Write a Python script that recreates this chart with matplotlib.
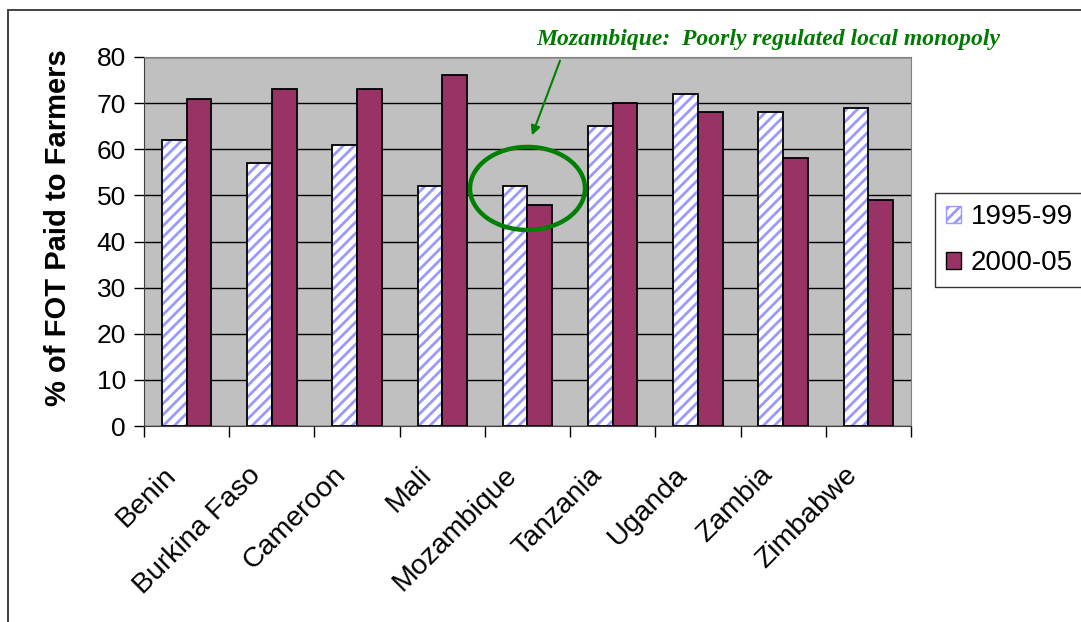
import matplotlib.pyplot as plt
import matplotlib.transforms as mtransforms
import numpy as np
from matplotlib.patches import Ellipse, Rectangle, Patch

countries = ["Benin", "Burkina Faso", "Cameroon", "Mali", "Mozambique",
             "Tanzania", "Uganda", "Zambia", "Zimbabwe"]
share_9599 = [62, 57, 61, 52, 52, 65, 72, 68, 69]
share_0005 = [71, 73, 73, 76, 48, 70, 68, 58, 49]
series_names = ["1995-99", "2000-05"]
yticks = [0, 10, 20, 30, 40, 50, 60, 70, 80]

plt.rcParams["font.family"] = ["Liberation Sans", "DejaVu Sans"]
plt.rcParams["hatch.linewidth"] = 2.0
plt.rcParams["hatch.color"] = "#9999FF"

W, H = 1081, 622
fig = plt.figure(figsize=(W / 100, H / 100), dpi=100)

# outer frame (only left and top visible in the original)
fig.add_artist(Rectangle((8 / W, -0.1), 1.2, (H - 10) / H + 0.1, transform=fig.transFigure,
                         fill=False, ec="#333333", lw=1.3))

left, right, top, bottom = 144, 911, 57, 426
ax = fig.add_axes([left / W, (H - bottom) / H, (right - left) / W, (bottom - top) / H])
ax.set_facecolor("#C0C0C0")

x = np.arange(len(countries))
bw = 0.29
hatch = "///"
ax.bar(x - bw / 2, share_9599, bw, color="white", edgecolor="#9999FF",
       hatch=hatch, lw=0, zorder=2)
ax.bar(x - bw / 2, share_9599, bw, fill=False, edgecolor="black", lw=1.3, zorder=3)
ax.bar(x + bw / 2, share_0005, bw, color="#993366", edgecolor="black", lw=1.3, zorder=3)

ax.set_xlim(-0.5, len(countries) - 0.5)
ax.set_ylim(0, 80)
ax.set_yticks(yticks)
ax.yaxis.grid(True, color="black", lw=1.0, zorder=1)
ax.set_axisbelow(True)
ax.tick_params(axis="y", labelsize=19, length=7, width=1, direction="out", pad=6)
ax.set_xticks(np.arange(len(countries) + 1) - 0.5)
ax.set_xticklabels([])
ax.tick_params(axis="x", which="major", length=8, width=1, direction="out")

# category labels, rotated 45 degrees, ending a little left of each centre
shift = mtransforms.ScaledTranslation(-24 / 100, -36 / 100, fig.dpi_scale_trans)
for i, name in enumerate(countries):
    ax.text(i, 0, name, rotation=45, ha="right", va="top", rotation_mode="anchor",
            fontsize=20.5, transform=ax.transData + shift, clip_on=False)

for s in ["top", "right"]:
    ax.spines[s].set_color("#808080")
for s in ["left", "bottom"]:
    ax.spines[s].set_color("#404040")
ax.set_ylabel("% of FOT Paid to Farmers", fontsize=21, fontweight="bold")
ax.yaxis.set_label_coords((58 - left) / (right - left), (bottom - 228) / (bottom - top))
ax.yaxis.label.set_va("center")

# legend
handles = [Patch(facecolor="white", edgecolor="#9999FF", hatch=hatch),
           Patch(facecolor="#993366", edgecolor="black")]
leg = fig.legend(handles, series_names, loc="upper left",
                 bbox_to_anchor=(935 / W, (H - 193) / H), fontsize=20,
                 frameon=True, fancybox=False, edgecolor="black",
                 handlelength=0.55, handleheight=0.55, handletextpad=0.35,
                 labelspacing=0.72, borderpad=0.4, borderaxespad=0)
leg.get_frame().set_linewidth(1.0)

# annotation: ellipse, arrow and note
ax.add_patch(Ellipse((4, 51.5), 115 / 85.2, 83 / 4.61, fill=False,
                     ec="#008000", lw=3.2, zorder=5, transform=ax.transData))
fig.text(768 / W, (H - 40) / H, "Mozambique:  Poorly regulated local monopoly",
         ha="center", va="center", fontsize=17, fontweight="bold", style="italic",
         family=["Liberation Serif", "DejaVu Serif"], color="#007A00")
ax.annotate("", xy=(531 / W, (H - 138) / H), xycoords="figure fraction",
            xytext=(561 / W, (H - 58) / H), textcoords="figure fraction",
            arrowprops=dict(arrowstyle="-|>", color="#008000", lw=1.5,
                            mutation_scale=14), zorder=6, annotation_clip=False)

fig.savefig("out.png", dpi=100)
